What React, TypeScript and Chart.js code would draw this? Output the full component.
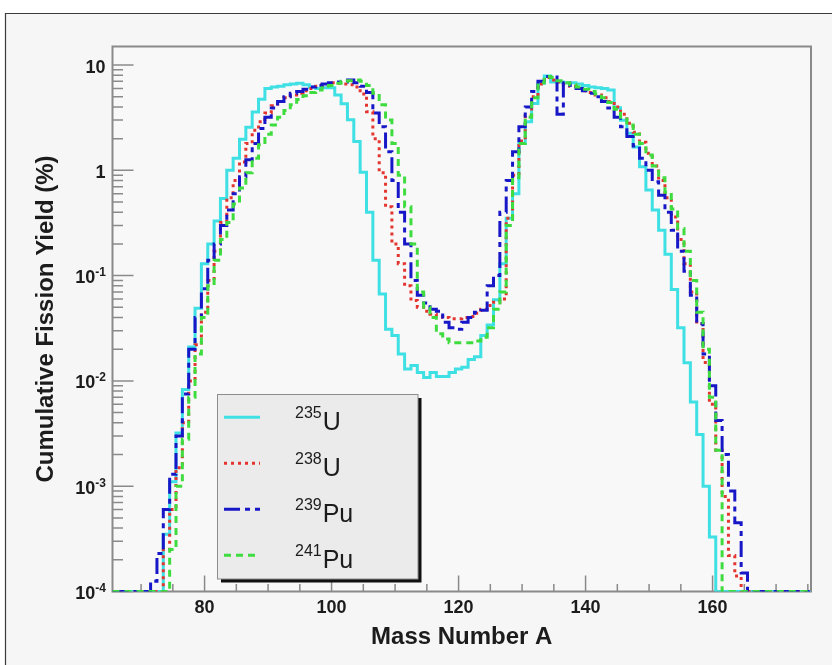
import React, { useEffect, useRef } from "react";
import { Chart, registerables } from "chart.js";

Chart.register(...registerables);

const W = 832;
const H = 665;
const FONT = '"Liberation Sans", Arial, Helvetica, sans-serif';

// Mass numbers A = 66 .. 175 (one bin per mass number)
const MASS_NUMBERS = Array.from({ length: 110 }, (_, i) => 66 + i);

// Cumulative fission yields (%), 0 = below the plotted range
const YIELD_U235 = [
  0, 0, 0, 0, 0, 0, 0, 0, 3.5e-4, 1.1e-3,
  3.2e-3, 8.3e-3, 0.021, 0.049, 0.13, 0.2, 0.33, 0.54, 1.0, 1.3,
  1.97, 2.56, 3.58, 4.73, 6.0, 6.2, 6.3, 6.5, 6.6, 6.7,
  6.5, 6.2, 6.0, 6.1, 6.1, 5.18, 4.3, 3.03, 1.88, 0.96,
  0.4, 0.14, 0.067, 0.031, 0.027, 0.018, 0.013, 0.014, 0.012, 0.0108,
  0.012, 0.011, 0.011, 0.012, 0.013, 0.0135, 0.016, 0.017, 0.027, 0.034,
  0.059, 0.13, 0.35, 0.6, 1.8, 2.89, 4.31, 6.7, 7.87, 6.9,
  6.9, 6.8, 6.8, 6.6, 6.4, 6.2, 6.1, 6.0, 5.8, 3.93,
  2.99, 2.25, 1.67, 1.08, 0.65, 0.42, 0.27, 0.16, 0.074, 0.032,
  0.0149, 0.0063, 0.0031, 0.001, 3.3e-4, 0, 0, 0, 0, 0,
  0, 0, 0, 0, 0, 0, 0, 0, 0, 0,
];

const YIELD_U238 = [
  0, 0, 0, 0, 0, 0, 0, 0, 2.5e-4, 6e-4,
  1.5e-3, 4e-3, 0.01, 0.022, 0.045, 0.09, 0.17, 0.32, 0.55, 0.8,
  1.2, 1.8, 2.4, 2.9, 3.5, 4.1, 4.5, 4.9, 5.2, 5.4,
  5.7, 6.0, 6.3, 6.5, 6.8, 6.7, 6.6, 6.5, 6.2, 5.3,
  3.6, 2.0, 0.95, 0.45, 0.2, 0.13, 0.08, 0.058, 0.05, 0.046,
  0.043, 0.041, 0.04, 0.039, 0.039, 0.04, 0.041, 0.044, 0.048, 0.052,
  0.056, 0.06, 0.35, 0.9, 1.9, 3.3, 5.0, 6.6, 7.6, 7.2,
  6.9, 6.6, 6.3, 6.0, 5.7, 5.5, 5.2, 4.9, 4.5, 4.0,
  3.4, 2.8, 2.3, 1.85, 1.45, 1.1, 0.8, 0.55, 0.36, 0.22,
  0.13, 0.07, 0.035, 0.015, 0.006, 0.0022, 8e-4, 2.2e-4, 1.4e-4, 0,
  0, 0, 0, 0, 0, 0, 0, 0, 0, 0,
];

const YIELD_PU239 = [
  0, 0, 0, 0, 0, 0, 1.25e-4, 2.3e-4, 6e-4, 1.3e-3,
  3e-3, 7.5e-3, 0.02, 0.04, 0.075, 0.14, 0.2, 0.3, 0.42, 0.6,
  0.87, 1.26, 1.8, 2.5, 3.2, 3.9, 4.5, 5.0, 5.4, 5.6,
  5.9, 6.2, 6.4, 6.6, 6.8, 6.9, 6.9, 7.2, 6.8, 6.3,
  5.5, 3.5, 2.6, 1.5, 0.8, 0.4, 0.2, 0.09, 0.065, 0.055,
  0.048, 0.046, 0.036, 0.032, 0.031, 0.036, 0.04, 0.045, 0.047, 0.08,
  0.1, 0.4, 0.8, 1.5, 2.6, 4.0, 5.6, 7.0, 7.8, 7.7,
  3.4, 6.8, 6.4, 6.0, 5.7, 5.4, 5.0, 4.5, 3.9, 3.2,
  2.6, 2.1, 1.7, 1.3, 1.0, 0.78, 0.58, 0.4, 0.27, 0.17,
  0.11, 0.065, 0.035, 0.018, 0.009, 0.0042, 0.002, 9e-4, 4.5e-4, 1.5e-4,
  0, 0, 0, 0, 0, 0, 0, 0, 0, 0,
];

const YIELD_PU241 = [
  0, 0, 0, 0, 0, 0, 0, 0, 0, 2.5e-4,
  1.0e-3, 2.8e-3, 7e-3, 0.018, 0.04, 0.08, 0.14, 0.22, 0.32, 0.48,
  0.68, 0.95, 1.3, 1.75, 2.2, 2.7, 3.2, 3.7, 4.2, 4.7,
  5.1, 5.5, 5.8, 6.1, 6.4, 6.7, 7.0, 7.1, 7.2, 7.0,
  6.4, 5.4, 4.2, 3.0, 1.8, 0.9, 0.45, 0.2, 0.07, 0.05,
  0.04, 0.028, 0.025, 0.023, 0.023, 0.023, 0.023, 0.024, 0.026, 0.032,
  0.048, 0.07, 0.3, 0.85, 1.8, 3.2, 4.9, 6.8, 7.8, 7.6,
  7.1, 6.8, 6.5, 6.2, 5.9, 5.6, 5.3, 4.9, 4.4, 3.8,
  3.2, 2.7, 2.2, 1.8, 1.4, 1.1, 0.85, 0.62, 0.43, 0.28,
  0.17, 0.09, 0.045, 0.02, 0.007, 0.0022, 0, 0, 0, 0,
  0, 0, 0, 0, 0, 0, 0, 0, 0, 0,
];

const SERIES_SUP = ["235", "238", "239", "241"];
const SERIES_SYM = ["U", "U", "Pu", "Pu"];
const SERIES_COLORS = ["#3ee0e4", "#e3342f", "#1717c8", "#3fdc3f"];
const SERIES_DASH = [[], [3, 4], [16, 5, 5, 5], [7, 5]];
const SERIES_VALUES = [YIELD_U235, YIELD_U238, YIELD_PU239, YIELD_PU241];

const X_MIN = 65.5;
const X_MAX = 175.5;
const Y_MIN = 1e-4;
const Y_MAX = 15;

const X_TICK_VALUES = [80, 100, 120, 140, 160];
const X_TICK_LABELS = ["80", "100", "120", "140", "160"];
const X_MINOR_TICKS = [70, 75, 80, 85, 90, 95, 100, 105, 110, 115, 120, 125, 130, 135, 140, 145, 150, 155, 160, 165, 170, 175];
const Y_TICK_VALUES = [1e-4, 1e-3, 1e-2, 1e-1, 1, 10];
const Y_TICK_LABELS = ["10^{-4}", "10^{-3}", "10^{-2}", "10^{-1}", "1", "10"];
const Y_MINOR_MULT = [2, 3, 4, 5, 6, 7, 8, 9];

const X_TITLE = "Mass Number A";
const Y_TITLE = "Cumulative Fission Yield (%)";

const PAD_FILL = "#f6f6f6";
const AXIS_COLOR = "#8a8a8a";
const TEXT_COLOR = "#1c1c1c";

function splitLabel(label: string): [string, string] {
  const i = label.indexOf("^{");
  if (i < 0) return [label, ""];
  return [label.slice(0, i), label.slice(i + 2, label.length - 1)];
}

const rootPlugin = {
  id: "rootStyle",
  beforeDraw(chart: any) {
    const { ctx, width, height, chartArea: a } = chart;
    ctx.save();
    ctx.fillStyle = "#ffffff";
    ctx.fillRect(0, 0, width, height);
    ctx.fillStyle = PAD_FILL;
    ctx.fillRect(5, 13, width - 5, height - 13);
    ctx.strokeStyle = "#3a3a3a";
    ctx.lineWidth = 1.2;
    ctx.beginPath();
    ctx.moveTo(5.5, height);
    ctx.lineTo(5.5, 13.5);
    ctx.lineTo(width, 13.5);
    ctx.stroke();
    ctx.fillStyle = "#f8f8f8";
    ctx.fillRect(a.left, a.top, a.right - a.left, a.bottom - a.top);
    ctx.restore();
  },
  beforeDatasetsDraw(chart: any) {
    const { ctx, chartArea: a } = chart;
    const xs = chart.scales.x;
    const ys = chart.scales.y;
    ctx.save();
    ctx.strokeStyle = AXIS_COLOR;
    ctx.lineWidth = 1.5;
    ctx.beginPath();
    X_MINOR_TICKS.forEach((v) => {
      const px = xs.getPixelForValue(v);
      const len = X_TICK_VALUES.includes(v) ? 16 : 7.5;
      ctx.moveTo(px, a.bottom);
      ctx.lineTo(px, a.bottom - len);
    });
    Y_TICK_VALUES.forEach((d) => {
      const py = ys.getPixelForValue(d);
      ctx.moveTo(a.left, py);
      ctx.lineTo(a.left + 21, py);
      Y_MINOR_MULT.forEach((m) => {
        const v = d * m;
        if (v >= Y_MAX) return;
        const p = ys.getPixelForValue(v);
        ctx.moveTo(a.left, p);
        ctx.lineTo(a.left + 10.5, p);
      });
    });
    ctx.stroke();
    ctx.lineWidth = 2;
    ctx.strokeRect(a.left, a.top, a.right - a.left, a.bottom - a.top);
    ctx.restore();
  },
  afterDatasetsDraw(chart: any) {
    const { ctx, chartArea: a } = chart;
    const xs = chart.scales.x;
    const ys = chart.scales.y;
    ctx.save();
    ctx.fillStyle = TEXT_COLOR;

    // y tick labels
    ctx.textAlign = "right";
    ctx.textBaseline = "alphabetic";
    Y_TICK_VALUES.forEach((v, i) => {
      const py = ys.getPixelForValue(v);
      const [base, exp] = splitLabel(Y_TICK_LABELS[i]);
      let right = exp ? 106 : 105.5;
      if (exp) {
        ctx.font = "bold 12px " + FONT;
        ctx.fillText(exp, right, py + 0.5);
        right -= ctx.measureText(exp).width;
      }
      ctx.font = "bold 18px " + FONT;
      ctx.fillText(base, right, py + 7.5);
    });

    // x tick labels
    ctx.textAlign = "center";
    ctx.font = "bold 18px " + FONT;
    X_TICK_VALUES.forEach((v, i) => {
      ctx.fillText(X_TICK_LABELS[i], xs.getPixelForValue(v), 613);
    });

    // axis titles
    ctx.font = "bold 24px " + FONT;
    ctx.textBaseline = "middle";
    ctx.fillText(X_TITLE, (a.left + a.right) / 2, 637);
    ctx.save();
    ctx.translate(46.5, (a.top + a.bottom) / 2);
    ctx.rotate(-Math.PI / 2);
    ctx.fillText(Y_TITLE, 0, 0);
    ctx.restore();

    // legend
    const L = 217.5, T = 394.5, R = 418, B = 579;
    ctx.fillStyle = "#111";
    ctx.fillRect(L + 3.5, T + 3.5, R - L, B - T);
    ctx.fillStyle = "#ebebeb";
    ctx.fillRect(L, T, R - L, B - T);
    ctx.strokeStyle = "#8c8c8c";
    ctx.lineWidth = 1;
    ctx.strokeRect(L, T, R - L, B - T);
    SERIES_SUP.forEach((sup, i) => {
      const yc = 417.3 + i * 46;
      ctx.strokeStyle = SERIES_COLORS[i];
      ctx.lineWidth = 3;
      ctx.setLineDash(SERIES_DASH[i]);
      ctx.beginPath();
      ctx.moveTo(224, yc);
      ctx.lineTo(260, yc);
      ctx.stroke();
      ctx.setLineDash([]);
      ctx.fillStyle = TEXT_COLOR;
      ctx.textAlign = "left";
      ctx.textBaseline = "alphabetic";
      ctx.font = "16px " + FONT;
      ctx.fillText(sup, 295, yc + 1);
      const w = ctx.measureText(sup).width;
      ctx.font = "25px " + FONT;
      ctx.fillText(SERIES_SYM[i], 295 + w + 1, yc + 13);
    });
    ctx.restore();
  },
};

function buildData() {
  return {
    datasets: SERIES_VALUES.map((vals, i) => {
      const pts = MASS_NUMBERS.map((A, j) => ({ x: A, y: Math.max(vals[j], Y_MIN) }));
      const first = pts[0];
      const last = pts[pts.length - 1];
      return {
        label: SERIES_SUP[i] + SERIES_SYM[i],
        data: [{ x: X_MIN, y: first.y }, ...pts, { x: X_MAX, y: last.y }],
        borderColor: SERIES_COLORS[i],
        borderWidth: 3,
        borderDash: SERIES_DASH[i],
        borderCapStyle: "butt",
        borderJoinStyle: "miter",
        stepped: "middle",
        pointRadius: 0,
        fill: false,
        order: 4 - i,
      };
    }),
  };
}

export default function App() {
  const ref = useRef<HTMLCanvasElement | null>(null);
  useEffect(() => {
    if (!ref.current) return;
    const chart = new Chart(ref.current, {
      type: "line",
      data: buildData() as any,
      options: {
        animation: false,
        responsive: false,
        devicePixelRatio: 1,
        layout: { padding: { left: 112.5, top: 46.5, right: W - 811, bottom: H - 591.5 } },
        scales: {
          x: { type: "linear", min: X_MIN, max: X_MAX, display: false },
          y: { type: "logarithmic", min: Y_MIN, max: Y_MAX, display: false },
        },
        plugins: { legend: { display: false }, tooltip: { enabled: false } },
        events: [],
      } as any,
      plugins: [rootPlugin as any],
    });
    return () => chart.destroy();
  }, []);
  return (
    <div style={{ position: "absolute", left: 0, top: 0, width: W, height: H }}>
      <canvas ref={ref} width={W} height={H} style={{ display: "block", width: W, height: H }} />
    </div>
  );
}
